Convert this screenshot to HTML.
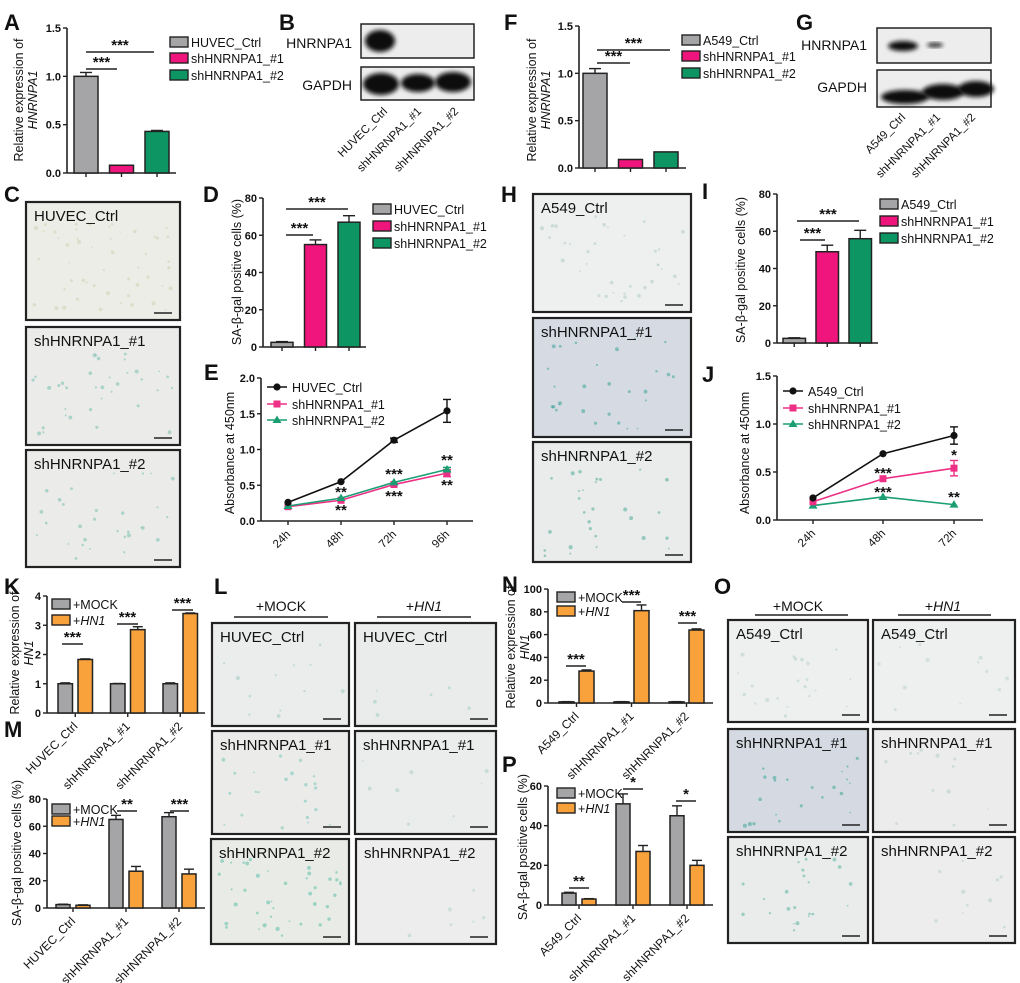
<!DOCTYPE html>
<html><head><meta charset="utf-8">
<style>
html,body{margin:0;padding:0;background:#fff;}
svg{display:block;font-family:"Liberation Sans",Arial,sans-serif;}
</style></head>
<body>
<svg id="fig" width="1020" height="983" viewBox="0 0 1020 983" xmlns="http://www.w3.org/2000/svg">
<defs>
<filter id="blur2" x="-20%" y="-50%" width="140%" height="200%"><feGaussianBlur stdDeviation="2.2"/></filter>
</defs>
</svg>
<script>
// ---------- data ----------
const shCats = ['HUVEC_Ctrl','shHNRNPA1_#1','shHNRNPA1_#2'];
const aCats = ['A549_Ctrl','shHNRNPA1_#1','shHNRNPA1_#2'];
const colors3 = ['#a5a5a8','#f0157d','#0d9664'];
const aVals = [1.0, 0.08, 0.43];
const aErr = [0.04, 0, 0.01];
const aTicks = ['0.0','0.5','1.0','1.5'];
const dVals = [2.5, 55, 67];
const dErr = [0.4, 2.5, 3.5];
const pctTicks = ['0','20','40','60','80'];
const fVals = [1.0, 0.09, 0.17];
const fErr = [0.05, 0, 0];
const iVals = [2.5, 49, 56];
const iErr = [0.3, 3.5, 4.5];
const eTimes = ['24h','48h','72h','96h'];
const eCtrl = [0.26, 0.55, 1.13, 1.54];
const eCtrlErr = [0.01, 0.02, 0.03, 0.16];
const eSh1 = [0.20, 0.29, 0.51, 0.67];
const eSh1Err = [0.01, 0.02, 0.02, 0.05];
const eSh2 = [0.21, 0.32, 0.54, 0.72];
const eSh2Err = [0.01, 0.02, 0.02, 0.03];
const eTicks = ['0.0','0.5','1.0','1.5','2.0'];
const jTimes = ['24h','48h','72h'];
const jCtrl = [0.23, 0.69, 0.88];
const jCtrlErr = [0.01, 0.01, 0.09];
const jSh1 = [0.19, 0.43, 0.54];
const jSh1Err = [0.01, 0.01, 0.08];
const jSh2 = [0.15, 0.24, 0.16];
const jSh2Err = [0.01, 0.01, 0.01];
const jTicks = ['0.0','0.5','1.0','1.5'];
const kMock = [1, 1, 1];
const kMockErr = [0.03, 0.01, 0.03];
const kHn1 = [1.83, 2.85, 3.4];
const kHn1Err = [0.02, 0.1, 0.02];
const kTicks = ['0','1','2','3','4'];
const mMock = [2.5, 65, 67];
const mMockErr = [0.3, 3, 3];
const mHn1 = [2, 27, 25];
const mHn1Err = [0.3, 3.5, 3.5];
const nMock = [1, 1, 1];
const nMockErr = [0.2, 0.2, 0.2];
const nHn1 = [28, 81, 64];
const nHn1Err = [1, 5, 1];
const nTicks = ['0','20','40','60','80','100'];
const pMock = [6, 51, 45];
const pMockErr = [0.4, 5, 5];
const pHn1 = [3, 27, 20];
const pHn1Err = [0.2, 3, 2.5];
const pTicks = ['0','20','40','60'];
const mockColors = ['#a5a5a8','#f9a23b'];

// ---------- helpers ----------
const NS = 'http://www.w3.org/2000/svg';
const svg = document.getElementById('fig');
function mk(tag, at, parent) {
  const e = document.createElementNS(NS, tag);
  for (const k in at) e.setAttribute(k, at[k]);
  (parent || svg).appendChild(e);
  return e;
}
function txt(s, x, y, size, name, extra, parent) {
  const t = mk('text', Object.assign({x: x, y: y, 'font-size': size, fill: '#111'}, extra || {}), parent);
  t.textContent = s;
  
  
  return t;
}
function group(name) {
  const g = mk('g', {});
  
  
  return g;
}
function line(x1, y1, x2, y2, w, name, parent, col) {
  const l = mk('line', {x1: x1, y1: y1, x2: x2, y2: y2, stroke: col || '#222', 'stroke-width': w}, parent);
  
  
  return l;
}
function panelLetter(s, x, y) {
  txt(s, x, y, 22, 'panel-label-' + s.toLowerCase(), {'font-weight': 'bold'});
}
function yScale(y0, yT, max) { return v => y0 - v / max * (y0 - yT); }
function yAxis(g, ax, y0, yT, max, ticks, end) {
  const sc = yScale(y0, yT, max);
  line(ax, sc(max), ax, y0, 1.6, 'y-axis', g);
  line(ax, y0, end, y0, 1.6, 'x-axis', g);
  ticks.forEach(t => {
    const y = sc(parseFloat(t));
    line(ax - 4, y, ax, y, 1.4, 'y-tick', g);
    txt(t, ax - 6, y + 4, 11, 'y-tick-label', {'text-anchor': 'end', 'font-weight': 'bold'}, g);
  });
  return sc;
}
function yLabel(g, lines, x, midY, size) {
  lines.forEach((l, i) => {
    txt(l.s, x + i * 14, midY, size, 'y-axis-title', {'text-anchor': 'middle', transform: 'rotate(-90 ' + (x + i * 14) + ' ' + midY + ')', 'font-style': l.it ? 'italic' : 'normal'}, g);
  });
}
function errBar(g, cx, yv, ye, w) {
  line(cx, ye, cx, yv, 1.4, 'error-bar', g);
  line(cx - w, ye, cx + w, ye, 1.4, 'error-cap', g);
}
function bar(g, x, w, y0, y, col, name) {
  const r = mk('rect', {x: x, y: y, width: w, height: Math.max(0.5, y0 - y), fill: col, stroke: '#222', 'stroke-width': 1.5}, g);
  
  
}
function sig(g, x1, x2, y, s, size) {
  line(x1, y, x2, y, 1.4, 'significance-line', g);
  txt(s, (x1 + x2) / 2, y - 2, size || 15, 'significance-stars', {'text-anchor': 'middle', 'font-weight': 'bold'}, g);
}
function legendBox(g, x, y, col, label, italicPart) {
  const r = mk('rect', {x: x, y: y - 5, width: 18, height: 10, fill: col, stroke: '#222', 'stroke-width': 1.4}, g);
  
  
  const t = txt('', x + 21, y + 5, 12.5, 'legend-entry', {}, g);
  if (italicPart) {
    const a = mk('tspan', {}, t); a.textContent = '+';
    const b = mk('tspan', {'font-style': 'italic'}, t); b.textContent = italicPart;
  } else t.textContent = label;
}
function legendLine(g, x, y, col, marker, label) {
  line(x - 10, y, x + 10, y, 1.5, 'legend-line', g, col);
  drawMarker(g, x, y, col, marker);
  txt(label, x + 15, y + 5, 12.5, 'legend-entry', {}, g);
}
function drawMarker(g, x, y, col, m) {
  let e;
  if (m === 'c') e = mk('circle', {cx: x, cy: y, r: 3.6, fill: col}, g);
  else if (m === 's') e = mk('rect', {x: x - 3.5, y: y - 3.5, width: 7, height: 7, fill: col}, g);
  else e = mk('polygon', {points: (x) + ',' + (y - 4.5) + ' ' + (x + 4.5) + ',' + (y + 3) + ' ' + (x - 4.5) + ',' + (y + 3), fill: col}, g);
  
  
}
function rotCat(g, s, x, y, size) {
  txt(s, x + 3, y, size, 'x-category-label', {'text-anchor': 'end', transform: 'rotate(-45 ' + (x + 3) + ' ' + y + ')'}, g);
}
function simpleBars(name, ax, y0, yT, max, ticks, start, step, w, vals, errs, end) {
  const g = group(name);
  const sc = yAxis(g, ax, y0, yT, max, ticks, end);
  vals.forEach((v, i) => {
    const x = start + i * step;
    line(x + w / 2, y0, x + w / 2, y0 + 4, 1.4, 'x-tick', g);
    if (errs[i] > 0) errBar(g, x + w / 2, sc(v), sc(v + errs[i]), 6);
    bar(g, x, w, y0, sc(v), colors3[i], 'bar-' + i);
  });
  return {g: g, sc: sc};
}
function groupedBars(name, ax, y0, yT, max, ticks, start, step, gap, w, s1, e1, s2, e2, end, cats) {
  const g = group(name);
  const sc = yAxis(g, ax, y0, yT, max, ticks, end);
  s1.forEach((v, i) => {
    const x = start + i * step;
    const cx = x + (gap + w) / 2;
    line(cx, y0, cx, y0 + 4, 1.4, 'x-tick', g);
    errBar(g, x + w / 2, sc(v), sc(v + e1[i]), 5);
    bar(g, x, w, y0, sc(v), mockColors[0], 'bar-mock-' + i);
    errBar(g, x + gap + w / 2, sc(s2[i]), sc(s2[i] + e2[i]), 5);
    bar(g, x + gap, w, y0, sc(s2[i]), mockColors[1], 'bar-hn1-' + i);
    rotCat(g, cats[i], cx, y0 + 14, 12);
  });
  return {g: g, sc: sc};
}
function lineChart(name, ax, y0, yT, max, ticks, xs, times, series, end) {
  const g = group(name);
  const sc = yAxis(g, ax, y0, yT, max, ticks, end);
  times.forEach((t, i) => {
    line(xs[i], y0, xs[i], y0 + 4, 1.4, 'x-tick', g);
    rotCat(g, t, xs[i], y0 + 14, 11.5);
  });
  series.forEach(s => {
    const pts = s.vals.map((v, i) => xs[i] + ',' + sc(v)).join(' ');
    const pl = mk('polyline', {points: pts, fill: 'none', stroke: s.col, 'stroke-width': 1.6}, g);
    
    
    s.vals.forEach((v, i) => {
      if (s.errs[i] > 0.02) {
        line(xs[i], sc(v - s.errs[i]), xs[i], sc(v + s.errs[i]), 1.4, 'error-bar', g, s.col);
        line(xs[i] - 4, sc(v + s.errs[i]), xs[i] + 4, sc(v + s.errs[i]), 1.4, 'error-cap', g, s.col);
        line(xs[i] - 4, sc(v - s.errs[i]), xs[i] + 4, sc(v - s.errs[i]), 1.4, 'error-cap', g, s.col);
      }
      drawMarker(g, xs[i], sc(v), s.col, s.m);
    });
  });
  return {g: g, sc: sc};
}
function photo(name, x, y, w, h, fill, label, dotCol, nDots, seed) {
  const g = group(name);
  const r = mk('rect', {x: x, y: y, width: w, height: h, fill: fill, stroke: '#222', 'stroke-width': 2.2}, g);
  
  
  let s = seed;
  const rnd = () => { s = (s * 9301 + 49297) % 233280; return s / 233280; };
  for (let i = 0; i < nDots; i++) {
    const c = mk('circle', {cx: x + 6 + rnd() * (w - 12), cy: y + 20 + rnd() * (h - 26), r: 0.8 + rnd() * 1.3, fill: dotCol, opacity: 0.45}, g);
    
    
  }
  line(x + w - 26, y + h - 7, x + w - 8, y + h - 7, 1.5, 'scale-bar', g);
  txt(label, x + 8, y + 19, 15, 'micrograph-label', {}, g);
}
function blot(name, x, y, w, h, bands) {
  const g = group(name);
  const r = mk('rect', {x: x, y: y, width: w, height: h, fill: '#ededed', stroke: '#222', 'stroke-width': 1.5}, g);
  
  
  bands.forEach(b => {
    const e = mk('ellipse', {cx: b[0], cy: b[1], rx: b[2], ry: b[3], fill: '#0a0a0a', filter: 'url(#blur2)'}, g);
    
    
  });
  return g;
}

// ---------- panel A ----------
panelLetter('A', 4, 30);
const pA = simpleBars('panel-a-chart', 67, 173, 28, 1.5, aTicks, 74, 35.5, 24, aVals, aErr, 176);
yLabel(pA.g, [{s: 'Relative expression of'}, {s: 'HNRNPA1', it: true}], 23, 100, 12.5);
sig(pA.g, 86, 154, 52, '***');
sig(pA.g, 86, 117, 69, '***');
legendBox(pA.g, 170, 42, colors3[0], 'HUVEC_Ctrl');
legendBox(pA.g, 170, 58, colors3[1], 'shHNRNPA1_#1');
legendBox(pA.g, 170, 75, colors3[2], 'shHNRNPA1_#2');

// ---------- panel B ----------
panelLetter('B', 279, 30);
blot('panel-b-blot-hnrnpa1', 361, 24, 113, 34, [[380, 41, 15, 11]]);
blot('panel-b-blot-gapdh', 361, 67, 113, 33, [[381, 84, 18, 11], [418, 83, 17, 9], [453, 82, 18, 10]]);
txt('HNRNPA1', 352, 48, 14, 'blot-row-label', {'text-anchor': 'end'});
txt('GAPDH', 352, 90, 14, 'blot-row-label', {'text-anchor': 'end'});
const gBl = group('panel-b-lane-labels');
rotCat(gBl, 'HUVEC_Ctrl', 385, 112, 11.5);
rotCat(gBl, 'shHNRNPA1_#1', 419, 112, 11.5);
rotCat(gBl, 'shHNRNPA1_#2', 456, 112, 11.5);

// ---------- panel C ----------
panelLetter('C', 4, 202);
photo('panel-c-huvec-ctrl', 26, 202, 154, 118, '#ecede6', 'HUVEC_Ctrl', '#c6cfa8', 50, 3);
photo('panel-c-sh1', 26, 327, 154, 118, '#ebecea', 'shHNRNPA1_#1', '#5fb6a4', 35, 7);
photo('panel-c-sh2', 26, 450, 154, 117, '#ebecea', 'shHNRNPA1_#2', '#5fb6a4', 30, 11);

// ---------- panel D ----------
panelLetter('D', 203, 202);
const pD = simpleBars('panel-d-chart', 263, 347, 198, 80, pctTicks, 271, 33.5, 22, dVals, dErr, 366);
yLabel(pD.g, [{s: 'SA-β-gal positive cells (%)'}], 241, 272, 12.5);
sig(pD.g, 286, 348, 209, '***');
sig(pD.g, 286, 313, 235, '***');
legendBox(pD.g, 373, 209, colors3[0], 'HUVEC_Ctrl');
legendBox(pD.g, 373, 226, colors3[1], 'shHNRNPA1_#1');
legendBox(pD.g, 373, 243, colors3[2], 'shHNRNPA1_#2');

// ---------- panel E ----------
panelLetter('E', 204, 380);
const eXs = [288, 341, 394, 447];
const pE = lineChart('panel-e-chart', 261, 521, 378, 2.0, eTicks, eXs, eTimes, [
  {vals: eSh1, errs: eSh1Err, col: '#ee2f86', m: 's'},
  {vals: eSh2, errs: eSh2Err, col: '#1a9e72', m: 't'},
  {vals: eCtrl, errs: eCtrlErr, col: '#111', m: 'c'}], 473);
yLabel(pE.g, [{s: 'Absorbance at 450nm'}], 234, 453, 12.5);
legendLine(pE.g, 277, 387, '#111', 'c', 'HUVEC_Ctrl');
legendLine(pE.g, 277, 404, '#ee2f86', 's', 'shHNRNPA1_#1');
legendLine(pE.g, 277, 420, '#1a9e72', 't', 'shHNRNPA1_#2');
txt('**', eXs[1], 497, 15, 'significance-stars', {'text-anchor': 'middle', 'font-weight': 'bold'}, pE.g);
txt('**', eXs[1], 515, 15, 'significance-stars', {'text-anchor': 'middle', 'font-weight': 'bold'}, pE.g);
txt('***', eXs[2], 479, 15, 'significance-stars', {'text-anchor': 'middle', 'font-weight': 'bold'}, pE.g);
txt('***', eXs[2], 501, 15, 'significance-stars', {'text-anchor': 'middle', 'font-weight': 'bold'}, pE.g);
txt('**', eXs[3], 465, 15, 'significance-stars', {'text-anchor': 'middle', 'font-weight': 'bold'}, pE.g);
txt('**', eXs[3], 490, 15, 'significance-stars', {'text-anchor': 'middle', 'font-weight': 'bold'}, pE.g);

// ---------- panel F ----------
panelLetter('F', 504, 30);
const pF = simpleBars('panel-f-chart', 579, 168, 26, 1.5, aTicks, 583, 35.5, 24, fVals, fErr, 686);
yLabel(pF.g, [{s: 'Relative expression of'}, {s: 'HNRNPA1', it: true}], 536, 100, 12.5);
sig(pF.g, 597, 670, 50, '***');
sig(pF.g, 597, 630, 63, '***');
legendBox(pF.g, 682, 40, colors3[0], 'A549_Ctrl');
legendBox(pF.g, 682, 56, colors3[1], 'shHNRNPA1_#1');
legendBox(pF.g, 682, 73, colors3[2], 'shHNRNPA1_#2');

// ---------- panel G ----------
panelLetter('G', 796, 30);
blot('panel-g-blot-hnrnpa1', 877, 28, 114, 35, [[903, 46, 15, 5], [935, 45, 8, 2]]);
blot('panel-g-blot-gapdh', 877, 70, 114, 37, [[905, 97, 24, 7], [943, 92, 21, 8], [976, 89, 18, 8]]);
txt('HNRNPA1', 867, 50, 14, 'blot-row-label', {'text-anchor': 'end'});
txt('GAPDH', 867, 92, 14, 'blot-row-label', {'text-anchor': 'end'});
const gGl = group('panel-g-lane-labels');
rotCat(gGl, 'A549_Ctrl', 903, 118, 11.5);
rotCat(gGl, 'shHNRNPA1_#1', 938, 118, 11.5);
rotCat(gGl, 'shHNRNPA1_#2', 973, 118, 11.5);

// ---------- panel H ----------
panelLetter('H', 501, 202);
photo('panel-h-a549-ctrl', 533, 194, 158, 118, '#eeefef', 'A549_Ctrl', '#9fc3bb', 35, 5);
photo('panel-h-sh1', 533, 318, 158, 119, '#d6dbe3', 'shHNRNPA1_#1', '#1f9a8a', 28, 13);
photo('panel-h-sh2', 533, 442, 158, 120, '#eaebeb', 'shHNRNPA1_#2', '#2f9f86', 28, 17);

// ---------- panel I ----------
panelLetter('I', 702, 199);
const pI = simpleBars('panel-i-chart', 777, 343, 194, 80, pctTicks, 783, 33, 22.5, iVals, iErr, 878);
yLabel(pI.g, [{s: 'SA-β-gal positive cells (%)'}], 745, 270, 12.5);
sig(pI.g, 797, 859, 221, '***');
sig(pI.g, 800, 825, 240, '***');
legendBox(pI.g, 880, 204, colors3[0], 'A549_Ctrl');
legendBox(pI.g, 880, 221, colors3[1], 'shHNRNPA1_#1');
legendBox(pI.g, 880, 238, colors3[2], 'shHNRNPA1_#2');

// ---------- panel J ----------
panelLetter('J', 702, 382);
const jXs = [813, 883, 954];
const pJ = lineChart('panel-j-chart', 777, 520, 376, 1.5, jTicks, jXs, jTimes, [
  {vals: jSh2, errs: jSh2Err, col: '#1a9e72', m: 't'},
  {vals: jSh1, errs: jSh1Err, col: '#ee2f86', m: 's'},
  {vals: jCtrl, errs: jCtrlErr, col: '#111', m: 'c'}], 983);
yLabel(pJ.g, [{s: 'Absorbance at 450nm'}], 749, 453, 12.5);
legendLine(pJ.g, 793, 391, '#111', 'c', 'A549_Ctrl');
legendLine(pJ.g, 793, 408, '#ee2f86', 's', 'shHNRNPA1_#1');
legendLine(pJ.g, 793, 424, '#1a9e72', 't', 'shHNRNPA1_#2');
txt('***', jXs[1], 478, 15, 'significance-stars', {'text-anchor': 'middle', 'font-weight': 'bold'}, pJ.g);
txt('***', jXs[1], 497, 15, 'significance-stars', {'text-anchor': 'middle', 'font-weight': 'bold'}, pJ.g);
txt('*', jXs[2], 460, 15, 'significance-stars', {'text-anchor': 'middle', 'font-weight': 'bold'}, pJ.g);
txt('**', jXs[2], 502, 15, 'significance-stars', {'text-anchor': 'middle', 'font-weight': 'bold'}, pJ.g);

// ---------- panel K ----------
panelLetter('K', 4, 594);
const pK = groupedBars('panel-k-chart', 47, 713, 596, 4, kTicks, 58, 52.5, 20, 14.5, kMock, kMockErr, kHn1, kHn1Err, 205, shCats);
yLabel(pK.g, [{s: 'Relative expression of'}, {s: 'HN1', it: true}], 19, 653, 12.5);
sig(pK.g, 62, 83, 644, '***');
sig(pK.g, 117, 138, 624, '***');
sig(pK.g, 172, 193, 610, '***');
legendBox(pK.g, 52, 604, mockColors[0], '+MOCK');
legendBox(pK.g, 52, 620, mockColors[1], '', 'HN1');

// ---------- panel L ----------
panelLetter('L', 214, 594);
const gL = group('panel-l-headers');
txt('+MOCK', 281, 611, 14, 'column-header', {'text-anchor': 'middle'}, gL);
line(234, 617, 328, 617, 1.6, 'column-header-line', gL);
const hL = txt('', 424, 611, 14, 'column-header', {'text-anchor': 'middle'}, gL);
{ const a = mk('tspan', {}, hL); a.textContent = '+'; const b = mk('tspan', {'font-style': 'italic'}, hL); b.textContent = 'HN1'; }
line(377, 617, 471, 617, 1.6, 'column-header-line', gL);
photo('panel-l-mock-ctrl', 212, 623, 137, 103, '#ebecec', 'HUVEC_Ctrl', '#8cc7bd', 12, 21);
photo('panel-l-hn1-ctrl', 355, 623, 141, 103, '#eaebeb', 'HUVEC_Ctrl', '#8cc7bd', 6, 23);
photo('panel-l-mock-sh1', 212, 731, 137, 103, '#ebecea', 'shHNRNPA1_#1', '#5dbfad', 22, 27);
photo('panel-l-hn1-sh1', 355, 731, 141, 103, '#ebecec', 'shHNRNPA1_#1', '#9ccab8', 8, 29);
photo('panel-l-mock-sh2', 211, 839, 138, 105, '#e8ebe6', 'shHNRNPA1_#2', '#3cb59b', 40, 31);
photo('panel-l-hn1-sh2', 356, 839, 140, 105, '#ecedec', 'shHNRNPA1_#2', '#a8cfc4', 6, 37);

// ---------- panel M ----------
panelLetter('M', 4, 737);
const pM = groupedBars('panel-m-chart', 47, 908, 799, 80, pctTicks, 56, 53, 20, 14, mMock, mMockErr, mHn1, mHn1Err, 205, shCats);
yLabel(pM.g, [{s: 'SA-β-gal positive cells (%)'}], 21, 853, 12.5);
sig(pM.g, 117, 137, 811, '**');
sig(pM.g, 170, 189, 811, '***');
legendBox(pM.g, 52, 809, mockColors[0], '+MOCK');
legendBox(pM.g, 52, 821, mockColors[1], '', 'HN1');

// ---------- panel N ----------
panelLetter('N', 502, 592);
const pN = groupedBars('panel-n-chart', 548, 703, 589, 100, nTicks, 559, 55, 20, 15, nMock, nMockErr, nHn1, nHn1Err, 713, aCats);
yLabel(pN.g, [{s: 'Relative expression of'}, {s: 'HN1', it: true}], 515, 647, 12.5);
sig(pN.g, 566, 586, 666, '***');
sig(pN.g, 622, 641, 602, '***');
sig(pN.g, 678, 697, 623, '***');
legendBox(pN.g, 557, 597, mockColors[0], '+MOCK');
legendBox(pN.g, 557, 611, mockColors[1], '', 'HN1');

// ---------- panel O ----------
panelLetter('O', 714, 594);
const gO = group('panel-o-headers');
txt('+MOCK', 798, 611, 14, 'column-header', {'text-anchor': 'middle'}, gO);
line(755, 615, 848, 615, 1.6, 'column-header-line', gO);
const hO = txt('', 943, 611, 14, 'column-header', {'text-anchor': 'middle'}, gO);
{ const a = mk('tspan', {}, hO); a.textContent = '+'; const b = mk('tspan', {'font-style': 'italic'}, hO); b.textContent = 'HN1'; }
line(898, 615, 991, 615, 1.6, 'column-header-line', gO);
photo('panel-o-mock-ctrl', 728, 620, 140, 102, '#eeefef', 'A549_Ctrl', '#a7cbc2', 22, 41);
photo('panel-o-hn1-ctrl', 873, 620, 142, 102, '#eeefef', 'A549_Ctrl', '#b2cfc6', 12, 43);
photo('panel-o-mock-sh1', 728, 729, 140, 103, '#d5dae2', 'shHNRNPA1_#1', '#1f9a8a', 22, 47);
photo('panel-o-hn1-sh1', 873, 729, 142, 103, '#ebeceb', 'shHNRNPA1_#1', '#a9c9bb', 12, 53);
photo('panel-o-mock-sh2', 728, 837, 140, 106, '#eaebeb', 'shHNRNPA1_#2', '#3aa88e', 22, 59);
photo('panel-o-hn1-sh2', 873, 837, 142, 106, '#ecedec', 'shHNRNPA1_#2', '#a9c9bb', 10, 61);

// ---------- panel P ----------
panelLetter('P', 502, 772);
const pP = groupedBars('panel-p-chart', 548, 905, 786, 60, pTicks, 562, 54, 20, 14, pMock, pMockErr, pHn1, pHn1Err, 713, aCats);
yLabel(pP.g, [{s: 'SA-β-gal positive cells (%)'}], 527, 847, 12.5);
sig(pP.g, 569, 589, 888, '**');
sig(pP.g, 623, 643, 789, '*');
sig(pP.g, 676, 696, 801, '*');
legendBox(pP.g, 557, 793, mockColors[0], '+MOCK');
legendBox(pP.g, 557, 808, mockColors[1], '', 'HN1');
</script>
</body></html>
